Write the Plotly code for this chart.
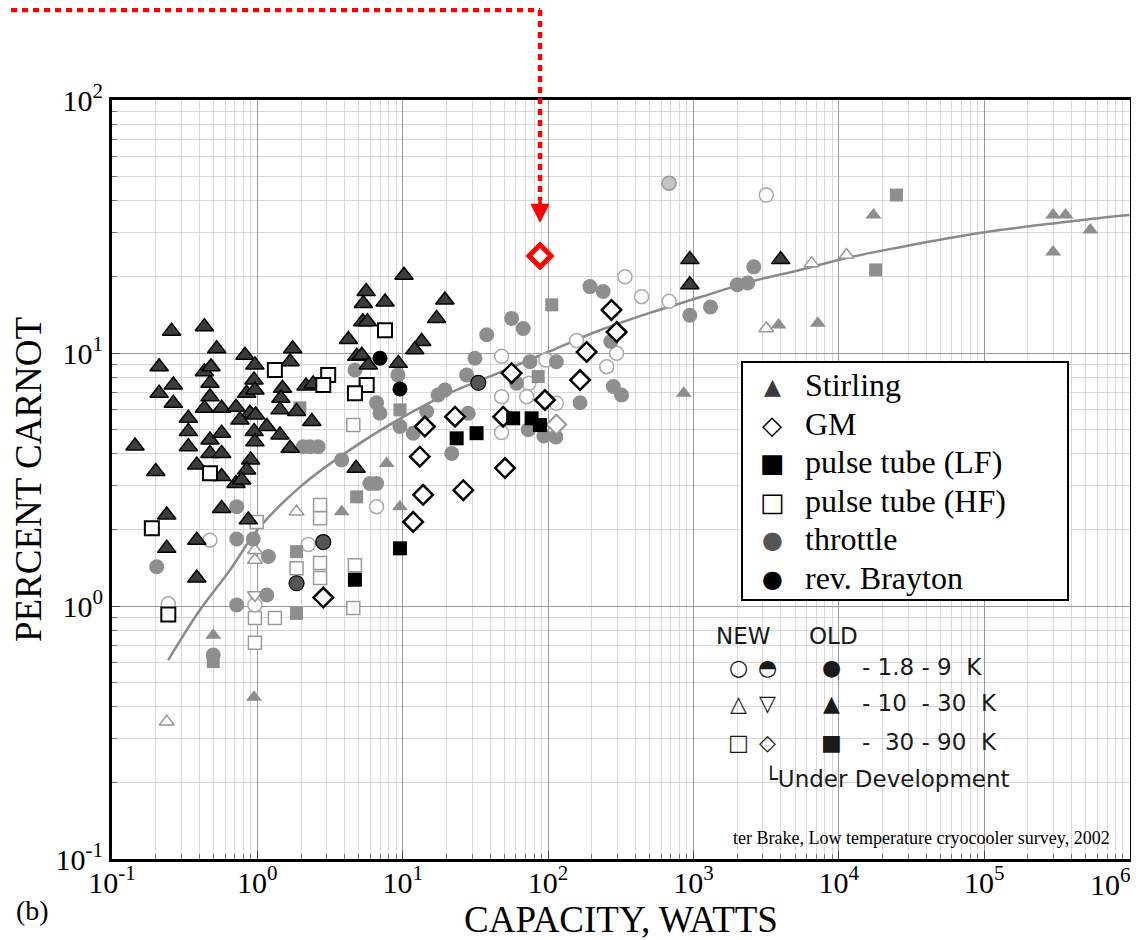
import numpy as np
import plotly.graph_objects as go

# ---------------- data ----------------
trend_x = [0.243, 0.40, 0.65, 1.0, 1.96, 4.33, 9.6, 21.1, 47, 100, 227, 501, 1107, 2443,
           5395, 11900, 26300, 57900, 128000, 282000, 624000, 1.0e6]
trend_y = [0.61, 0.96, 1.39, 2.0, 2.95, 4.14, 5.5, 6.95, 8.4, 10.1, 12.3, 14.4, 16.6, 19.1,
           21.3, 23.9, 26.2, 28.5, 30.6, 32.4, 34.2, 35.1]

stirling_x = [0.257, 0.432, 0.525, 0.822, 1.75, 0.211, 0.432, 0.480, 0.962, 1.68, 0.264, 0.211,
              0.472, 0.948, 1.49, 0.264, 0.472, 0.844, 0.962, 1.45, 0.432, 0.568, 0.713, 0.889,
              1.43, 0.335, 0.759, 0.973, 0.335, 1.16, 0.95, 0.472, 0.568, 1.43, 0.335, 0.962,
              1.68, 0.144, 0.472, 0.568, 0.899, 0.383, 0.200, 0.568, 0.713, 0.844, 0.780, 0.238,
              0.568, 0.866, 0.238, 0.383, 0.383, 2.16, 2.42, 1.86, 2.37, 4.78, 10.2, 5.60, 5.36,
              7.56, 5.31, 5.71, 19.5, 17.1, 4.23, 13.5, 12.1, 4.83, 5.23, 5.80, 9.32, 944, 944, 3980]
stirling_y = [12.2, 12.7, 10.4, 9.8, 10.4, 8.83, 8.44, 8.83, 8.97, 9.24, 7.48, 6.93, 7.59, 7.82,
              7.25, 6.33, 6.72, 6.93, 7.14, 6.62, 6.05, 6.05, 6.11, 5.78, 5.96, 5.52, 5.44, 5.69,
              4.89, 5.12, 4.89, 4.53, 4.82, 4.74, 4.26, 4.46, 4.20, 4.29, 4.01, 4.01, 3.78, 3.61,
              3.40, 3.25, 3.05, 3.45, 3.15, 2.29, 2.43, 2.19, 1.69, 1.82, 1.29, 7.41, 7.55, 5.87,
              5.36, 3.50, 20.3, 17.5, 15.7, 15.9, 13.3, 13.3, 16.2, 13.7, 11.3, 11.1, 10.3, 9.7,
              9.8, 8.97, 9.10, 23.4, 18.6, 23.4]

grey_tri_x = [17300, 298000, 363000, 537000, 298000, 3850, 7170, 857, 7.75, 9.57, 3.80, 0.497, 0.948]
grey_tri_y = [35.1, 35.1, 35.1, 30.6, 25.1, 12.9, 13.1, 6.93, 3.66, 2.47, 2.36, 0.767, 0.436]

open_tri_x = [6500, 11300, 3170, 1.86, 0.962, 0.962, 0.238]
open_tri_y = [22.6, 24.4, 12.5, 2.36, 1.66, 1.52, 0.349]
open_tri_down_x = [0.962]
open_tri_down_y = [1.105]

gm_x = [273, 296, 184, 166, 56.1, 95.1, 22.9, 14.2, 49.1, 13.1, 13.8, 26.1, 50.5, 11.8, 2.84]
gm_y = [14.8, 12.1, 10.1, 7.82, 8.32, 6.52, 5.60, 5.12, 5.60, 3.89, 2.75, 2.87, 3.51, 2.15, 1.08]
gm_light_x = [114]
gm_light_y = [5.22]

ptlf_x = [23.5, 32.2, 57.5, 77.0, 87.9, 9.57, 4.69]
ptlf_y = [4.60, 4.82, 5.52, 5.52, 5.19, 1.69, 1.27]

pthf_x = [7.55, 3.07, 2.84, 5.65, 4.69, 1.32, 0.472, 0.188, 0.244]
pthf_y = [12.3, 8.19, 7.48, 7.48, 6.93, 8.57, 3.35, 2.03, 0.926]

open_sq_x = [4.57, 2.70, 2.70, 2.70, 2.70, 4.57, 1.32, 0.962, 0.962, 0.989, 1.86, 4.69]
open_sq_y = [5.19, 2.51, 2.22, 1.48, 1.29, 0.983, 0.897, 0.897, 0.715, 2.15, 1.41, 1.45]

throttle_x = [194, 239, 56.1, 67.4, 37.8, 31.4, 19.5, 17.5, 27.5, 28.2, 21.7, 75.0, 114, 60.7,
              281, 320, 166, 73.0, 93.5, 113, 270, 9.57, 6.61, 6.97, 11.8, 3.80, 5.95, 6.61,
              2.07, 2.30, 2.62, 14.6, 4.69, 9.27, 2600, 2004, 2360, 1309, 944, 0.203, 0.721,
              0.721, 0.937, 1.19, 1.16, 0.721, 0.497]
throttle_y = [18.3, 17.5, 13.7, 12.5, 11.8, 9.53, 7.14, 6.82, 8.19, 5.78, 4.01, 9.24, 9.24, 7.59,
              7.37, 6.82, 6.36, 4.97, 4.70, 4.66, 11.1, 5.12, 6.36, 5.78, 4.82, 3.78, 3.05, 3.05,
              4.26, 4.26, 4.26, 5.87, 8.57, 8.19, 21.9, 18.6, 18.9, 15.2, 14.1, 1.43, 2.47,
              1.84, 1.84, 1.57, 1.105, 1.01, 0.640]

throttle_dark_x = [33.1, 2.84, 1.86]
throttle_dark_y = [7.62, 1.79, 1.23]

brayton_x = [6.97, 9.57]
brayton_y = [9.53, 7.21]

open_circ_x = [338, 440, 157, 96.6, 296, 253, 47.9, 73.8, 47.9, 71.2, 114, 47.9, 6.61, 2.24,
               3168, 680, 0.472, 0.962, 0.244]
open_circ_y = [20.0, 16.7, 11.2, 9.38, 9.97, 8.83, 9.7, 7.59, 6.72, 6.72, 6.33, 4.85, 2.47, 1.75,
               42.1, 16.0, 1.82, 1.01, 1.02]

half_circ_x = [680]
half_circ_y = [46.9]

grey_sq_x = [106, 85.5, 17900, 24900, 4.82, 1.86, 1.86, 0.497, 1.96, 9.57]
grey_sq_y = [15.5, 8.07, 21.3, 42.1, 2.70, 1.64, 0.935, 0.603, 6.07, 5.96]

highlight_x = [88]
highlight_y = [24.2]

legend_names = ["Stirling", "GM", "pulse tube (LF)", "pulse tube (HF)", "throttle", "rev. Brayton"]
legend_glyphs = ["▲", "◇", "■", "□", "●", "●"]

key_rows = [("○", "◓", "●", "- 1.8 - 9  K"),
            ("△", "▽", "▲", "- 10  - 30  K"),
            ("□", "◇", "■", "-  30 - 90  K")]

x_tickvals = [0.1, 1, 10, 100, 1e3, 1e4, 1e5, 1e6]
x_ticktext = ["10<sup>-1</sup>", "10<sup>0</sup>", "10<sup>1</sup>", "10<sup>2</sup>",
              "10<sup>3</sup>", "10<sup>4</sup>", "10<sup>5</sup>", "10<sup>6</sup>"]
y_tickvals = [0.1, 1, 10, 100]
y_ticktext = ["10<sup>-1</sup>", "10<sup>0</sup>", "10<sup>1</sup>", "10<sup>2</sup>"]

x_range = [-1.0, 6.003]
y_range = [-1.0, 2.0]

SERIF = "Liberation Serif"
GREY = "#8e8e8e"

# the page adds an 8px body margin, so the figure is drawn 8px smaller and the
# layout positions below are given in page pixels minus that offset
OFF = 8
W, H = 1139 - OFF, 940 - OFF
ML, MR, MT, MB = 112 - OFF, 9, 100 - OFF, 81
PW, PH = W - ML - MR, H - MT - MB

fig = go.Figure()

fig.add_trace(go.Scatter(x=trend_x, y=trend_y, mode="lines", line=dict(color="#8a8a8a", width=2.5, shape="spline"),
                         showlegend=False, hoverinfo="skip"))


def pts(x, y, symbol, size, fill, lcol, lw, name=None):
    fig.add_trace(go.Scatter(x=x, y=y, mode="markers", name=name, showlegend=False,
                             marker=dict(symbol=symbol, size=size, color=fill,
                                         line=dict(color=lcol, width=lw))))


pts(open_sq_x, open_sq_y, "square", 13, "white", "#9a9a9a", 1.5, "pulse tube, new")
pts(open_circ_x, open_circ_y, "circle", 14, "white", "#aaaaaa", 1.5, "new 1.8-9 K")
pts(half_circ_x, half_circ_y, "circle", 14, "#c4c4c4", "#9a9a9a", 1.5, "new 1.8-9 K (dev.)")
pts(open_tri_x, open_tri_y, "triangle-up", 13, "white", "#999999", 1.5, "new 10-30 K")
pts(open_tri_down_x, open_tri_down_y, "triangle-down", 13, "white", "#999999", 1.5, "new 10-30 K (dev.)")
pts(throttle_x, throttle_y, "circle", 15, GREY, GREY, 0, "throttle")
pts(grey_sq_x, grey_sq_y, "square", 13, GREY, GREY, 0, "old 30-90 K")
pts(grey_tri_x, grey_tri_y, "triangle-up", 14, GREY, GREY, 0, "old 10-30 K")
pts(gm_light_x, gm_light_y, "diamond", 15, "white", "#999999", 2, "GM (new)")
pts(stirling_x, stirling_y, "triangle-up", 16, "#3c3c3c", "black", 1.5, "Stirling")
pts(gm_x, gm_y, "diamond", 15, "white", "black", 2.5, "GM")
pts(ptlf_x, ptlf_y, "square", 14, "black", "black", 0, "pulse tube (LF)")
pts(pthf_x, pthf_y, "square", 14, "white", "black", 2, "pulse tube (HF)")
pts(throttle_dark_x, throttle_dark_y, "circle", 15, "#555555", "black", 1.2, "throttle")
pts(brayton_x, brayton_y, "circle", 15, "black", "black", 0, "rev. Brayton")
pts(highlight_x, highlight_y, "diamond", 17, "white", "#ff0000", 5, "highlight")


def pxp(px):
    """page pixel x -> paper x"""
    return (px - OFF - ML) / PW


def pyp(py):
    """page pixel y -> paper y"""
    return 1 - (py - OFF - MT) / PH


def paper_y(v):
    return (np.log10(v) - y_range[0]) / (y_range[1] - y_range[0])


def paper_x(v):
    return (np.log10(v) - x_range[0]) / (x_range[1] - x_range[0])


# red dotted pointer to the highlighted point
py_hi = paper_y(highlight_y[0])
top = pyp(10)
fig.add_shape(type="line", xref="x", yref="paper", x0=highlight_x[0], x1=highlight_x[0],
              y0=top, y1=py_hi + 56 / PH, line=dict(color="#ff0000", width=4.5, dash="6px,5px"))
fig.add_shape(type="line", xref="paper", yref="paper", x0=pxp(0), x1=paper_x(highlight_x[0]),
              y0=top, y1=top, line=dict(color="#ff0000", width=4.5, dash="6px,5px"))
fig.add_annotation(x=np.log10(highlight_x[0]), y=np.log10(highlight_y[0]), xref="x", yref="y",
                   text="", showarrow=True, ax=0, ay=-58, arrowhead=2, arrowsize=1.1,
                   arrowwidth=3.5, arrowcolor="#ff0000", standoff=33)


def ann(text, px, py, anchor="center", size=22, family="DejaVu Sans", color="#1a1a1a"):
    fig.add_annotation(x=pxp(px), y=pyp(py), xref="paper", yref="paper", text=text, showarrow=False,
                       xanchor=anchor, yanchor="middle",
                       font=dict(family=family, size=size, color=color))


# main legend (box + symbols + names)
fig.add_shape(type="rect", xref="paper", yref="paper", x0=pxp(742), x1=pxp(1068), y0=pyp(362), y1=pyp(600),
              line=dict(color="black", width=2), fillcolor="white", layer="above")
glyph_colors = ["#3a3a3a", "black", "black", "black", "#555555", "black"]
glyph_sizes = [22, 26, 26, 26, 24, 24]
for i, (nm, g) in enumerate(zip(legend_names, legend_glyphs)):
    yy = 385 + i * 38.6
    ann(g, 772, yy + 1, size=glyph_sizes[i], color=glyph_colors[i])
    ann(nm, 803, yy, anchor="left", size=32, family=SERIF, color="black")

# NEW / OLD key
ann("NEW", 743, 636, size=23)
ann("OLD", 833, 636, size=23)
for i, (a, b, c, t) in enumerate(key_rows):
    py = [667, 703, 742][i]
    ann(a, 738, py, size=22)
    ann(b, 767, py, size=22)
    ann(c, 831, py, size=22)
    ann(t, 860, py, anchor="left", size=23)
ann("└Under Development", 762, 778, anchor="left", size=23)

ann("ter Brake, Low temperature cryocooler survey, 2002", 1112, 838, anchor="right", size=18,
    family=SERIF, color="black")
ann("(b)", 32, 910, size=28, family=SERIF, color="black")
# the last x tick label sits at the page edge, so it is drawn nudged inward
ann(x_ticktext[-1], 1133, 882, anchor="right", size=30, family=SERIF, color="black")
x_ticktext_axis = x_ticktext[:-1] + [""]

axis_common = dict(type="log", showline=True, linecolor="black", linewidth=3, mirror=True,
                   showgrid=True, gridcolor="#9a9a9a", gridwidth=1, zeroline=False,
                   ticks="inside", ticklen=8, tickcolor="#444",
                   tickfont=dict(family=SERIF, size=30, color="black"),
                   minor=dict(dtick="D1", showgrid=True, gridcolor="#d9d9d9", gridwidth=1,
                              ticks="inside", ticklen=5, tickcolor="#777"))

fig.update_xaxes(**axis_common, range=x_range, tickvals=x_tickvals, ticktext=x_ticktext_axis,
                 ticklabelstandoff=-5,
                 title=dict(text="CAPACITY, WATTS", font=dict(family=SERIF, size=37, color="black"), standoff=2))
fig.update_yaxes(**axis_common, range=y_range, tickvals=y_tickvals, ticktext=y_ticktext,
                 title=dict(text="PERCENT CARNOT", font=dict(family=SERIF, size=37, color="black"), standoff=4))

fig.update_layout(
    width=W, height=H,
    margin=dict(l=ML, r=MR, t=MT, b=MB, autoexpand=False),
    paper_bgcolor="white", plot_bgcolor="white",
    showlegend=False,
)

fig.write_html("out.html")
